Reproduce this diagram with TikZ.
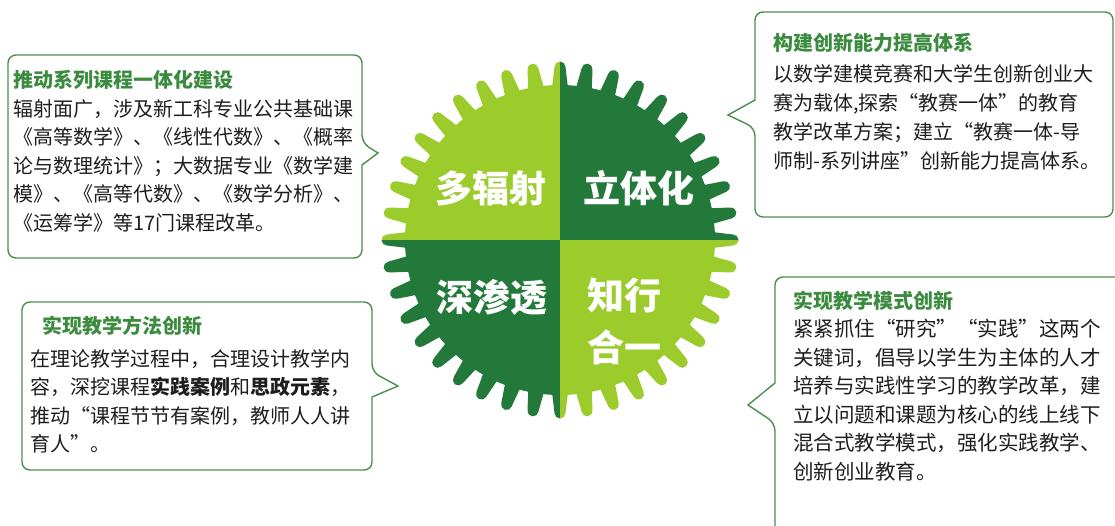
\documentclass[tikz,border=0pt]{standalone}
\usepackage{fontspec}
\setmainfont{Noto Sans CJK SC}
\newfontfamily\cjk{Noto Sans CJK SC}
\definecolor{lg}{HTML}{9CCB2C}
\definecolor{dg}{HTML}{22793A}
\definecolor{bd}{HTML}{4C8E50}
\definecolor{tt}{HTML}{3B8B3F}
\definecolor{tx}{HTML}{1E1E1E}
\newcommand\gearfill[1]{%
  \fill[#1] (560,240) circle[radius=155pt];
  \foreach \a in {0,9,...,351}{%
    \fill[#1, shift={(560,240)}, rotate=\a] (148pt,-8.5pt) -- (173pt,-5.5pt)
      arc[start angle=-90,end angle=90,radius=5.5pt] -- (148pt,8.5pt) -- cycle;}%
}
\begin{document}
\begin{tikzpicture}[x=1pt,y=-1pt,
  callout/.style={draw=bd, line width=1.4pt},
  ttl/.style={anchor=north west, inner sep=0pt, text=tt, font=\cjk\fontsize{20}{28}\selectfont\bfseries},
  bdy/.style={anchor=north west, inner sep=0pt, text=tx, align=left, font=\cjk\fontsize{20}{28.5}\selectfont},
  qt/.style={text=white, font=\cjk\fontsize{37}{52}\selectfont\bfseries, align=center, inner sep=0pt}]
\useasboundingbox (0,0) rectangle (1115,525);
\clip (0,0) rectangle (1115,525);
\fill[white] (0,0) rectangle (1115,525);

% gear
\begin{scope}\clip (360,40) rectangle (560,240); \gearfill{lg} \end{scope}
\begin{scope}\clip (560,40) rectangle (760,240); \gearfill{dg} \end{scope}
\begin{scope}\clip (360,240) rectangle (560,440); \gearfill{dg} \end{scope}
\begin{scope}\clip (560,240) rectangle (760,440); \gearfill{lg} \end{scope}

\node[qt] (q1) at (491,188) {多辐射};
\node[qt] (q2) at (639,188) {立体化};
\node[qt] (q3) at (492,297) {深渗透};
\node[qt] (q4) at (624,321) {知行\\合一};

% callout 1
\draw[callout] (150,55) [rounded corners=8pt] -- (362,55) -- (362,143) [sharp corners] -- (378,153) -- (362,165) [rounded corners=8pt] -- (362,258) -- (8,258) -- (8,55) -- (150,55);
\node[ttl] (t1) at (13,70) {推动系列课程一体化建设};
\node[bdy] (b1) at (13,99) {辐射面广，涉及新工科专业公共基础课\\《高等数学》、《线性代数》、《概率\\论与数理统计》；大数据专业《数学建\\模》、《高等代数》、《数学分析》、\\《运筹学》等17门课程改革。};

% callout 2
\draw[callout] (150,302) [rounded corners=8pt] -- (372,302) -- (372,372) [sharp corners] -- (398,386) -- (372,397) [rounded corners=8pt] -- (372,470) -- (22,470) -- (22,302) -- (150,302);
\node[ttl] (t2) at (42,316) {实现教学方法创新};
\node[bdy] (b2) at (30,349) {在理论教学过程中，合理设计教学内\\容，深挖课程\textbf{实践案例}和\textbf{思政元素}，\\推动“课程节节有案例，教师人人讲\\育人”。};

% callout 3
\draw[callout] (900,12) [rounded corners=8pt] -- (1113,12) -- (1113,217) -- (755,217) -- (755,128) [sharp corners] -- (728,115) -- (755,100) [rounded corners=8pt] -- (755,12) -- (900,12);
\node[ttl] (t3) at (773,33) {构建创新能力提高体系};
\node[bdy, font=\cjk\fontsize{20}{29}\selectfont] (b3) at (773,64) {以数学建模竞赛和大学生创新创业大\\赛为载体,探索“教赛一体”的教育\\教学改革方案；建立“教赛一体-导\\师制-系列讲座”创新能力提高体系。};

% callout 4
\draw[callout] (900,277) [rounded corners=8pt] -- (1130,277) -- (1130,545) -- (775,545) -- (775,423) [sharp corners] -- (748,405) -- (775,383) [rounded corners=8pt] -- (775,277) -- (900,277);
\node[ttl] (t4) at (793,291) {实现教学模式创新};
\node[bdy, font=\cjk\fontsize{20.5}{28.5}\selectfont] (b4) at (793,319) {紧紧抓住“研究”“实践”这两个\\关键词，倡导以学生为主体的人才\\培养与实践性学习的教学改革，建\\立以问题和课题为核心的线上线下\\混合式教学模式，强化实践教学、\\创新创业教育。};
\end{tikzpicture}
\end{document}
